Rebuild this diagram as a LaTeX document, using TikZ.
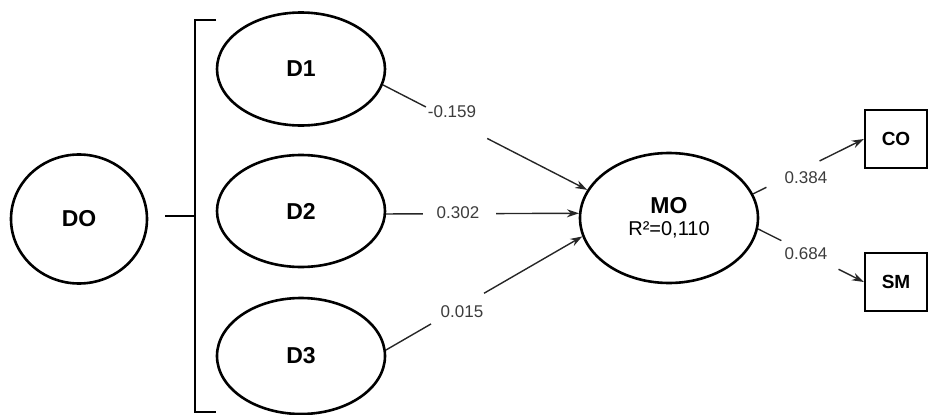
\documentclass[tikz,border=0pt]{standalone}
\usepackage{fontspec}
\setmainfont{Liberation Sans}
\usetikzlibrary{shapes.geometric,arrows.meta,calc}
\definecolor{lbl}{HTML}{3C3C3C}
\begin{document}
\begin{tikzpicture}[x=1pt,y=-1pt,
  latent/.style={draw,ellipse,line width=2.6pt,inner sep=0pt,font=\bfseries\fontsize{23}{25}\selectfont},
  manifest/.style={draw,rectangle,line width=2.2pt,inner sep=0pt,minimum width=62pt,minimum height=58pt,font=\bfseries\fontsize{19}{21}\selectfont},
  path/.style={line width=1.4pt,draw=black!85},
  arr/.style={path,-{Stealth[length=12pt,width=8pt]}},
  coef/.style={inner sep=0pt,text=lbl,font=\fontsize{17}{19}\selectfont}]
\useasboundingbox (0,0) rectangle (930,415);
% latent variables
\node[latent,minimum width=136pt,minimum height=129pt] (DO) at (79,219) {DO};
\node[latent,minimum width=168pt,minimum height=113pt] (D1) at (301,69) {D1};
\node[latent,minimum width=168pt,minimum height=112pt] (D2) at (301,211) {D2};
\node[latent,minimum width=168pt,minimum height=116pt] (D3) at (301,356) {D3};
\node[latent,minimum width=178pt,minimum height=130pt,align=center] (MO) at (669,218)
  {\raisebox{0pt}{MO}\\[-3pt]{\mdseries\fontsize{20}{22}\selectfont R²=0,110}};
% manifest variables
\node[manifest] (CO) at (896,139) {CO};
\node[manifest] (SM) at (896,282) {SM};
% bracket
\coordinate (bt) at (216,20);
\coordinate (bb) at (216,412);
\coordinate (bm) at (195,216);
\coordinate (bs) at (165,216);
\draw[line width=1.7pt] (bt) -- (195,20) -- (195,412) -- (bb);
\draw[line width=1.7pt] (bs) -- (bm);
% coefficient labels
\node[coef] (l1) at (452,112) {-0.159};
\node[coef] (l2) at (458,213) {0.302};
\node[coef] (l3) at (462,312) {0.015};
\node[coef] (l4) at (806,178) {0.384};
\node[coef] (l5) at (806,254) {0.684};
% paths
\draw[path] (D1.-11) -- ($(D1.-11)!0.21!(MO.161)$);
\draw[arr] ($(D1.-11)!0.51!(MO.161)$) -- (MO.161);
\draw[path] (D2.-2) -- ($(D2.-2)!0.19!(MO.177)$);
\draw[arr] ($(D2.-2)!0.57!(MO.177)$) -- (MO.177);
\draw[path] (D3.4) -- ($(D3.4)!0.23!(MO.-168)$);
\draw[arr] ($(D3.4)!0.50!(MO.-168)$) -- (MO.-168);
\draw[path] (MO.16) -- ($(MO.16)!0.12!(CO.west)$);
\draw[arr] ($(MO.16)!0.60!(CO.west)$) -- (CO.west);
\draw[path] (MO.-7) -- ($(MO.-7)!0.22!(SM.west)$);
\draw[arr] ($(MO.-7)!0.76!(SM.west)$) -- (SM.west);
\end{tikzpicture}
\end{document}
